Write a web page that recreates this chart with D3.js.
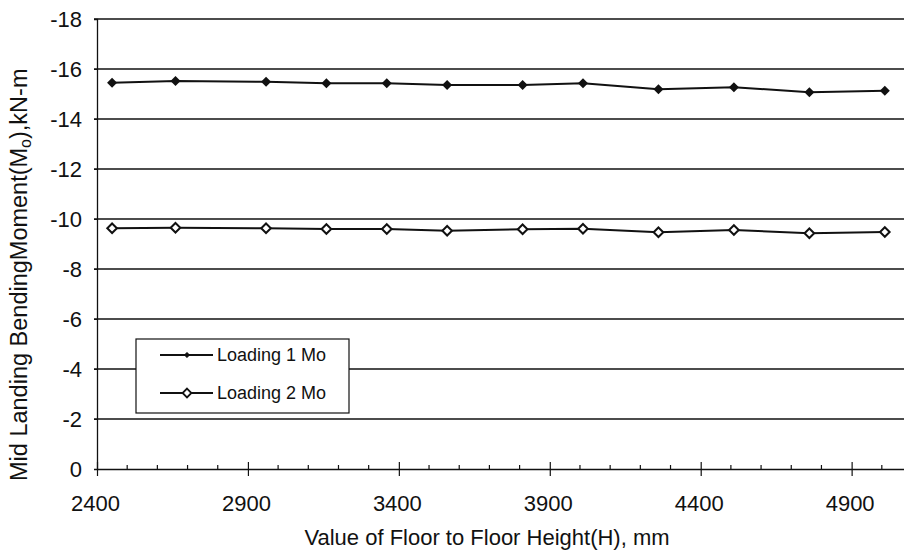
<!DOCTYPE html>
<html>
<head>
<meta charset="utf-8">
<script src="https://cdn.jsdelivr.net/npm/d3@7"></script>
<style>
  html, body { margin: 0; padding: 0; background: #fff; }
  svg { display: block; font-family: "Liberation Sans", Arial, sans-serif; }
</style>
</head>
<body>
<svg id="chart" width="904" height="554"></svg>
<script>
// Floor-to-floor height H (mm) at each analysed case
const heights = [2450, 2660, 2960, 3160, 3360, 3560, 3810, 4010, 4260, 4510, 4760, 5010];
// Mid-landing bending moment Mo (kN-m) for each loading case
const loading1 = [-15.45, -15.52, -15.49, -15.43, -15.43, -15.36, -15.36, -15.43, -15.19, -15.27, -15.07, -15.13];
const loading2 = [-9.63, -9.65, -9.63, -9.60, -9.60, -9.53, -9.59, -9.61, -9.47, -9.56, -9.43, -9.48];
const seriesNames = ["Loading 1 Mo", "Loading 2 Mo"];
const xTicks = [2400, 2900, 3400, 3900, 4400, 4900];
const yTicks = [0, -2, -4, -6, -8, -10, -12, -14, -16, -18];

const svg = d3.select("#chart");
const plotLeft = 97, plotRight = 912, plotTop = 19, plotBottom = 469;
const ink = "#111";

const x = d3.scaleLinear().domain([2400, 5100]).range([plotLeft, plotRight]);
const y = d3.scaleLinear().domain([0, -18]).range([plotBottom, plotTop]);

// plain hyphen-minus labels
const fmt = d => String(d);

// horizontal gridlines
svg.append("g")
  .selectAll("line")
  .data(yTicks.filter(d => d !== 0))
  .join("line")
  .attr("x1", plotLeft - 3).attr("x2", 904)
  .attr("y1", d => y(d)).attr("y2", d => y(d))
  .attr("stroke", ink).attr("stroke-width", 1.3);

// y axis
const yAxis = svg.append("g")
  .attr("transform", `translate(${plotLeft},0)`)
  .call(d3.axisLeft(y).tickValues(yTicks).tickFormat(fmt).tickSize(3));
yAxis.select(".domain").attr("stroke", ink).attr("stroke-width", 1.3);
yAxis.selectAll("line").attr("stroke", ink);
yAxis.selectAll("text")
  .attr("x", -15).attr("dy", "0.36em")
  .attr("font-size", 22).attr("fill", ink);

// x axis: minor ticks every 100 mm
const minor = d3.range(2500, 5100, 100).filter(v => !xTicks.includes(v));
svg.append("g")
  .selectAll("line")
  .data(minor)
  .join("line")
  .attr("x1", d => x(d)).attr("x2", d => x(d))
  .attr("y1", plotBottom).attr("y2", plotBottom - 4)
  .attr("stroke", ink).attr("stroke-width", 1.2);

const xAxis = svg.append("g")
  .attr("transform", `translate(0,${plotBottom})`)
  .call(d3.axisBottom(x).tickValues(xTicks).tickFormat(fmt).tickSizeInner(7).tickSizeOuter(0));
xAxis.select(".domain").attr("stroke", ink).attr("stroke-width", 1.3);
xAxis.selectAll(".tick line").attr("y1", -7).attr("stroke", ink).attr("stroke-width", 1.2);
xAxis.selectAll("text")
  .attr("x", -2).attr("y", 42).attr("dy", 0)
  .attr("font-size", 22).attr("fill", ink);

// axis titles
svg.append("text")
  .attr("x", 487).attr("y", 545)
  .attr("text-anchor", "middle")
  .attr("font-size", 22).attr("fill", ink)
  .text("Value of Floor to Floor Height(H), mm");

const yt = svg.append("text")
  .attr("transform", "translate(27,481) rotate(-90)")
  .attr("text-anchor", "start")
  .attr("font-size", 23.5).attr("fill", ink);
yt.append("tspan").text("Mid Landing BendingMoment(M");
yt.append("tspan").attr("font-size", 16).attr("dy", 4).text("o");
yt.append("tspan").attr("dy", -4).text("),kN-m");

// series lines
const line = d3.line().x((d, i) => x(heights[i])).y(d => y(d));
[loading1, loading2].forEach(vals => {
  svg.append("path")
    .datum(vals)
    .attr("d", line)
    .attr("fill", "none")
    .attr("stroke", ink)
    .attr("stroke-width", 2);
});

const diamond = s => `M0,${-s}L${s},0L0,${s}L${-s},0Z`;

// filled diamonds for loading 1
svg.append("g")
  .selectAll("path")
  .data(loading1)
  .join("path")
  .attr("transform", (d, i) => `translate(${x(heights[i])},${y(d)})`)
  .attr("d", diamond(5))
  .attr("fill", ink);

// open diamonds for loading 2
svg.append("g")
  .selectAll("path")
  .data(loading2)
  .join("path")
  .attr("transform", (d, i) => `translate(${x(heights[i])},${y(d)})`)
  .attr("d", diamond(4.8))
  .attr("fill", "#fff")
  .attr("stroke", ink)
  .attr("stroke-width", 2);

// legend
const lg = svg.append("g");
lg.append("rect")
  .attr("x", 136).attr("y", 339).attr("width", 213).attr("height", 74)
  .attr("fill", "#fff").attr("stroke", ink).attr("stroke-width", 1.2);
seriesNames.forEach((name, i) => {
  const cy = 355 + i * 38;
  lg.append("line")
    .attr("x1", 160).attr("x2", 213).attr("y1", cy).attr("y2", cy)
    .attr("stroke", ink).attr("stroke-width", 2);
  lg.append("path")
    .attr("transform", `translate(187,${cy})`)
    .attr("d", diamond(i === 0 ? 2.8 : 4.4))
    .attr("fill", i === 0 ? ink : "#fff")
    .attr("stroke", ink)
    .attr("stroke-width", i === 0 ? 0.5 : 1.8);
  lg.append("text")
    .attr("x", 217).attr("y", cy + 6)
    .attr("font-size", 18).attr("fill", ink)
    .text(name);
});
</script>
</body>
</html>
